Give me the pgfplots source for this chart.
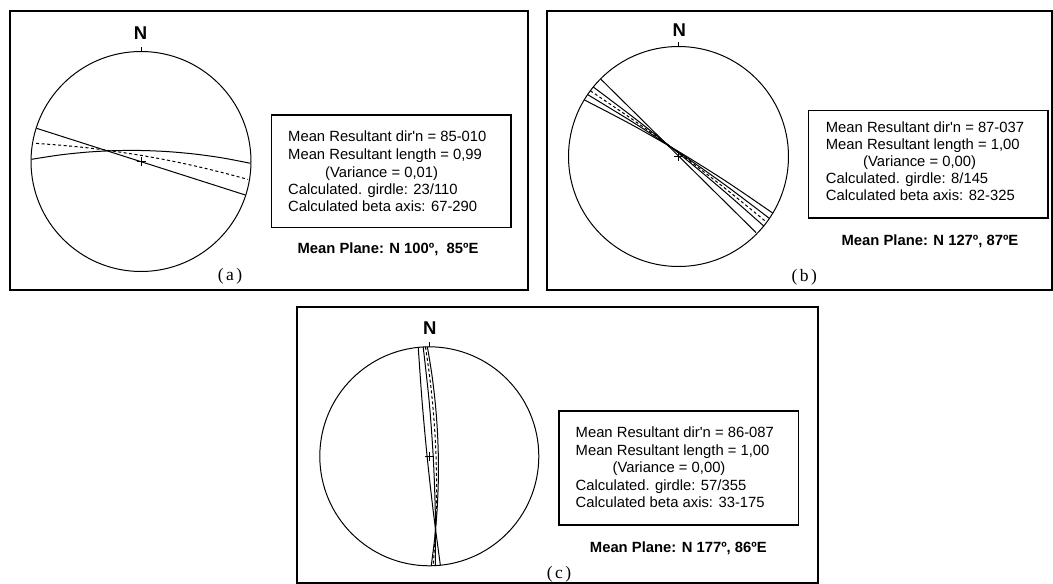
\documentclass[border=0pt]{standalone}
\usepackage{pgfplots}
\pgfplotsset{compat=1.18}
\usepackage{fontspec}
\newfontfamily\arial{Liberation Sans}
\newfontfamily\timesf{Liberation Serif}
\pgfplotsset{stereo/.style={width=220pt,height=220pt,scale only axis,
  xmin=-1,xmax=1,ymin=-1,ymax=1,hide axis,clip=false,anchor=center}}
\tikzset{gc/.style={black,line width=1pt,smooth,no markers},
  gcd/.style={gc,dash pattern=on 3pt off 2.5pt},
  txt/.style={anchor=base west,inner sep=0pt,font=\arial\fontsize{14.8}{17}\selectfont},
  mp/.style={anchor=base,inner sep=0pt,font=\arial\bfseries\fontsize{14.8}{17}\selectfont},
  lab/.style={inner sep=0pt,font=\timesf\fontsize{17.5}{20}\selectfont},
  nn/.style={inner sep=0pt,font=\arial\bfseries\fontsize{18.5}{20}\selectfont}}
\begin{document}
\begin{tikzpicture}[x=1pt,y=1pt]
\path[use as bounding box] (0,0) rectangle (1053,-584);
% ---------- panel (a)
\draw[line width=2pt] (9.5,-11) rectangle (528,-290);
\draw[line width=1.4pt] (271.5,-115) rectangle (511,-227.7);
\node[txt] at (288,-141.7) {Mean Resultant dir'n = 85-010};
\node[txt] at (288,-159.3) {Mean Resultant length = 0,99};
\node[txt] at (325,-177.0) {(Variance = 0,01)};
\node[txt] at (288,-194.3) {Calculated. girdle: 23/110};
\node[txt] at (288,-211.7) {Calculated beta axis: 67-290};
\node[mp] at (388,-253.3) {Mean Plane: N 100º,\ \ 85ºE};
\node[lab] at (230,-276.7) {(\kern2.5pt a\kern2.5pt)};
\node[nn] at (140.5,-33.3) {N};
\begin{axis}[stereo,at={(141pt,-161.5pt)}]
\draw[line width=1pt] (axis cs:0,0) circle[radius=1];
\addplot[black,line width=1pt] coordinates {(0,1) (0,1.045)};
\addplot[black,only marks,mark=+,mark size=4.5pt,mark options={line width=0.8pt}] coordinates {(0,0)};
\addplot[gc] coordinates {(-0.950,0.302) (0.950,-0.305)};
\addplot[gc] coordinates {(-0.994,0.020) (-0.745,0.0586) (-0.496,0.0847) (-0.247,0.0984) (0.002,0.100) (0.250,0.0894) (0.498,0.0667) (0.746,0.0316) (0.994,-0.016)};
\addplot[gcd] coordinates {(-0.953,0.165) (-0.708,0.146) (-0.466,0.122) (-0.224,0.090) (0.017,0.053) (0.257,0.009) (0.496,-0.042) (0.733,-0.099) (0.970,-0.162)};
\end{axis}
% ---------- panel (b)
\draw[line width=2pt] (547.3,-11) rectangle (1052,-290);
\draw[line width=1.4pt] (808.3,-110.5) rectangle (1048,-218);
\node[txt] at (825.7,-132) {Mean Resultant dir'n = 87-037};
\node[txt] at (825.7,-149) {Mean Resultant length = 1,00};
\node[txt] at (863,-166) {(Variance = 0,00)};
\node[txt] at (825.7,-183.3) {Calculated. girdle: 8/145};
\node[txt] at (825.7,-200) {Calculated beta axis: 82-325};
\node[mp] at (930,-245) {Mean Plane: N 127º, 87ºE};
\node[lab] at (804.3,-277) {(\kern2.5pt b\kern2.5pt)};
\node[nn] at (679.3,-30) {N};
\begin{axis}[stereo,at={(678.5pt,-156.5pt)}]
\draw[line width=1pt] (axis cs:0,0) circle[radius=1];
\addplot[black,line width=1pt] coordinates {(0,1) (0,1.045)};
\addplot[black,only marks,mark=+,mark size=4.5pt,mark options={line width=0.8pt}] coordinates {(0,0)};
\addplot[gc] coordinates {(-0.705,0.702) (0.705,-0.692)};
\addplot[gc] coordinates {(-0.7749,0.6320) (-0.376,0.330) (0.0149,0.0182) (0.399,-0.302) (0.7749,-0.6320)};
\addplot[gc] coordinates {(-0.8266,0.5628) (-0.399,0.302) (0.0185,0.0272) (0.427,-0.261) (0.8266,-0.5628)};
\addplot[gc] coordinates {(-0.8572,0.5150) (-0.414,0.283) (0.0200,0.0333) (0.444,-0.233) (0.8572,-0.5150)};
\addplot[gcd] coordinates {(-0.8018,0.5976) (-0.388,0.316) (0.0169,0.0227) (0.414,-0.282) (0.8018,-0.5976)};
\end{axis}
% ---------- panel (c)
\draw[line width=2pt] (297,-306.7) rectangle (817.6,-583);
\draw[line width=1.4pt] (559,-411) rectangle (798.6,-525);
\node[txt] at (575.5,-437.7) {Mean Resultant dir'n = 86-087};
\node[txt] at (575.5,-455.3) {Mean Resultant length = 1,00};
\node[txt] at (612.4,-472.7) {(Variance = 0,00)};
\node[txt] at (575.5,-490) {Calculated. girdle: 57/355};
\node[txt] at (575.5,-507.3) {Calculated beta axis: 33-175};
\node[mp] at (678.3,-552.3) {Mean Plane: N 177º, 86ºE};
\node[lab] at (559,-574.3) {(\kern2.5pt c\kern2.5pt)};
\node[nn] at (429.7,-328.3) {N};
\begin{axis}[stereo,width=219pt,height=219pt,at={(429.3pt,-456.3pt)}]
\draw[line width=1pt] (axis cs:0,0) circle[radius=1];
\addplot[black,line width=1pt] coordinates {(0,1) (0,1.045)};
\addplot[black,only marks,mark=+,mark size=4.5pt,mark options={line width=0.8pt}] coordinates {(0,0)};
\addplot[gc] coordinates {(-0.101,0.9949) (-0.0654,0.4960) (-0.0199,-0.0020) (0.0356,-0.4990) (0.101,-0.9949)};
\addplot[gc] coordinates {(-0.0175,0.9999) (0.0230,0.7505) (0.0531,0.5010) (0.0729,0.2513) (0.0824,0.0014) (0.0817,-0.2487) (0.0705,-0.4988) (0.0492,-0.7493) (0.0175,-0.9999)};
\addplot[gc] coordinates {(-0.0558,0.9984) (-0.0012,0.5007) (0.0355,0.0020) (0.0546,-0.4977) (0.0558,-0.9984)};
\addplot[gcd] coordinates {(-0.0349,0.9994) (0.0006,0.7505) (0.0284,0.5013) (0.0487,0.2519) (0.0612,0.0021) (0.0661,-0.2479) (0.0634,-0.4981) (0.0530,-0.7487) (0.0349,-0.9994)};
\end{axis}
\end{tikzpicture}
\end{document}
